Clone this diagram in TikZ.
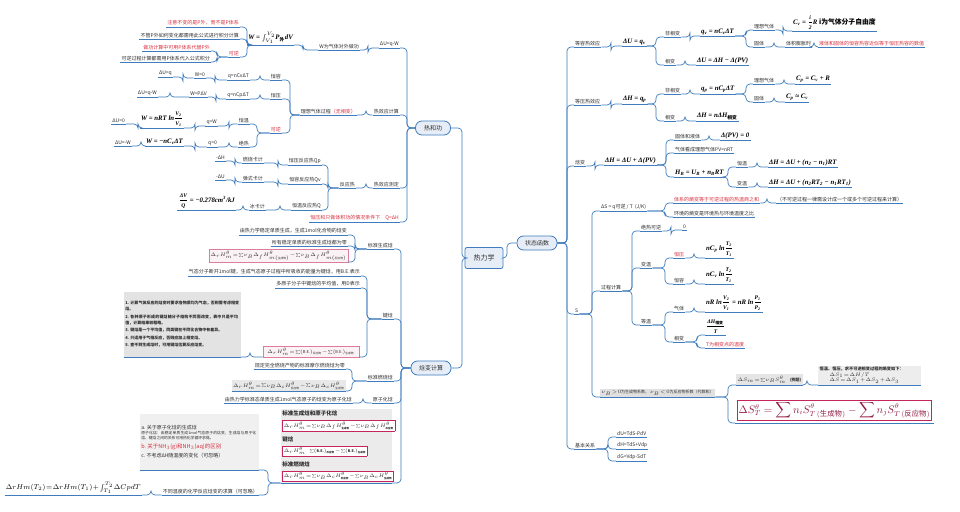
\documentclass[tikz,border=0pt]{standalone}
\usepackage{fontspec}
\usepackage{amsmath}
\setmainfont{Noto Sans CJK SC}
\newfontfamily\tnr{Liberation Serif}
\XeTeXlinebreaklocale "zh"
\XeTeXlinebreakskip=0pt plus 1pt
\definecolor{lc}{RGB}{62,124,189}
\definecolor{rt}{RGB}{215,45,60}
\definecolor{nf}{RGB}{231,237,247}
\definecolor{fr}{RGB}{196,38,92}
\definecolor{tx}{RGB}{45,45,45}
\setlength\fboxsep{1pt}
\setlength\fboxrule{0.5pt}
\newcommand\conL[3]{\draw[link] (#1.south west) -- (#3,0 |- #1.south west) |- (#2.south east);}
\newcommand\conR[3]{\draw[link] (#1.south east) -- (#3,0 |- #1.south east) |- (#2.south west);}
\newcommand\tightmath{\medmuskip=1mu\thickmuskip=1.5mu\thinmuskip=1mu}
\newcommand\fr[2]{$\dfrac{\text{\fontsize{5.6}{6}\selectfont #1}}{\text{\fontsize{5.6}{6}\selectfont #2}}$}
\newcommand\sub[1]{\textsubscript{#1}}
\newcommand\zh[1]{{\normalfont\bfseries #1}}
\begin{document}
\begin{tikzpicture}[x=1pt,y=-1pt,
  link/.style={draw=lc,line width=0.7pt,rounded corners=4pt},
  ul/.style={append after command={\pgfextra{\draw[draw=lc,line width=0.7pt] (\tikzlastnode.south west)--(\tikzlastnode.south east);}}},
  t/.style={ul,inner xsep=1pt,inner ysep=1.3pt,text=tx,font=\fontsize{5}{6}\selectfont\tightmath},
  L/.style={t,anchor=south east},
  R/.style={t,anchor=south west},
  rd/.style={text=rt},
  fm/.style={font=\fontsize{6.8}{8}\selectfont\tnr\bfseries\itshape\tightmath,text=black},
  img/.style={fill=black!9,inner sep=1.5pt},
  topic/.style={draw=lc,fill=nf,line width=0.8pt,rounded corners=6.5pt,minimum height=14pt,inner xsep=4pt,font=\fontsize{6}{7}\selectfont,text=tx},
]
\useasboundingbox (0,0) rectangle (960,511);
\fill[white] (0,0) rectangle (960,511);

% ---------- central ----------
\node[draw=lc,fill=nf,line width=0.8pt,rounded corners=2pt,minimum width=38pt,minimum height=21pt,font=\fontsize{7}{8}\selectfont,text=tx] (main) at (484,258) {热力学};
\node[topic,minimum width=40pt] (zt) at (537,243) {状态函数};
\node[topic,minimum width=35pt] (rg) at (433,128) {热和功};
\node[topic,minimum width=40pt] (hb) at (431,368) {焓变计算};
\draw[link] (main.east) -- (507,0 |- main.east) |- (zt.west);
\draw[link] (main.west) -- (462,0 |- main.west) |- (rg.east);
\draw[link] (main.west) -- (462,0 |- main.west) |- (hb.east);

% ---------- 热和功 ----------
\node[L] (a1) at (400,48) {ΔU=q-W};
\node[L] (a11) at (360,50) {W为气体对外做功};
\node[L,fm] (a111) at (294,45) {W = $\int_{V_1}^{V_2}$P\sub{\zh{外}}dV};
\node[L,rd] (b1) at (240,27) {注意不变的是P外，而不是P体系};
\node[L] (b2) at (240,39) {不管P外如何变化都需用此公式进行积分计算};
\node[L,rd] (b3) at (240,57) {可逆};
\node[L,rd] (b31) at (211,51) {做功计算中可用P体系代替P外};
\node[L] (b32) at (211,62) {可逆过程计算都需用P体系代入公式积分};

\node[L] (a2) at (400,115) {热效应计算};
\node[L] (a21) at (357,115) {理想气体过程\textcolor{rt}{（无相变）}};
\node[L] (p1) at (282,80) {恒容};
\node[L] (p11) at (250,80) {q=nCvΔT};
\node[L] (p111) at (206,78) {W=0};
\node[L] (p1111) at (173,77) {ΔU=q};
\node[L] (p2) at (282,99) {恒压};
\node[L] (p21) at (250,99) {q=nCpΔT};
\node[L] (p211) at (208,97) {W=PΔV};
\node[L] (p2111) at (158,97) {ΔU=q-W};
\node[L,rd] (p3) at (282,133) {可逆};
\node[L] (p31) at (250,124) {恒温};
\node[L] (p311) at (218,126) {q=W};
\node[L,fm] (p3111) at (184,128) {W = nRT ln\fr{V\sub{2}}{V\sub{1}}};
\node[L] (p31111) at (126,124) {ΔU=0};
\node[L] (p32) at (250,147) {绝热};
\node[L] (p321) at (218,147) {q=0};
\node[L,fm] (p3211) at (184,146) {W = −nC\sub{v}ΔT};
\node[L] (p32111) at (132,146) {ΔU=-W};

\node[L] (a3) at (400,188) {热效应测定};
\node[L] (a31) at (356,188) {反应热};
\node[L] (q1) at (322,165) {恒压反应热Qp};
\node[L] (q11) at (264,163) {燃烧卡计};
\node[L] (q111) at (226,161) {-ΔH};
\node[L] (q2) at (322,184) {恒容反应热Qv};
\node[L] (q21) at (264,182) {弹式卡计};
\node[L] (q211) at (226,180) {-ΔU};
\node[L] (q3) at (322,210) {恒温反应热Q};
\node[L] (q31) at (266,210) {冰卡计};
\node[L,fm] (q311) at (236,210) {\fr{ΔV}{Q} = −0.278cm\textsuperscript{3}/kJ};
\node[L,rd] (a4) at (400,222) {恒压和只做体积功的情况条件下\quad Q=ΔH};

\draw[link] (rg.west) -- (407,0 |- rg.west) |- (a1.south east);
\draw[link] (rg.west) -- (407,0 |- rg.west) |- (a2.south east);
\draw[link] (rg.west) -- (407,0 |- rg.west) |- (a3.south east);
\draw[link] (rg.west) -- (407,0 |- rg.west) |- (a4.south east);
\conL{a1}{a11}{368}
\conL{a11}{a111}{303}
\conL{a111}{b1}{247} \conL{a111}{b2}{247} \conL{a111}{b3}{247}
\conL{b3}{b31}{217} \conL{b3}{b32}{217}
\conL{a2}{a21}{366}
\conL{a21}{p1}{290} \conL{a21}{p2}{290} \conL{a21}{p3}{290}
\conL{p1}{p11}{260} \conL{p11}{p111}{215} \conL{p111}{p1111}{183}
\conL{p2}{p21}{260} \conL{p21}{p211}{216} \conL{p211}{p2111}{170}
\conL{p3}{p31}{257} \conL{p3}{p32}{257}
\conL{p31}{p311}{229} \conL{p311}{p3111}{195} \conL{p3111}{p31111}{138}
\conL{p32}{p321}{229} \conL{p321}{p3211}{195} \conL{p3211}{p32111}{141}
\conL{a3}{a31}{366}
\conL{a31}{q1}{328} \conL{a31}{q2}{328} \conL{a31}{q3}{328}
\conL{q1}{q11}{278} \conL{q11}{q111}{235}
\conL{q2}{q21}{278} \conL{q21}{q211}{235}
\conL{q3}{q31}{280} \conL{q31}{q311}{243}

% ---------- 焓变计算 ----------
\node[L] (h1) at (394,249) {标准生成焓};
\node[L] (h11) at (348,235) {由热力学稳定单质生成，生成1mol化合物的焓变};
\node[L] (h12) at (348,246) {所有稳定单质的标准生成焓都为零};
\node[L,img,draw=fr!60,fill=fr!6,font=\fontsize{4}{5}\selectfont\tightmath,minimum width=91pt,minimum height=11pt] (h13) at (348,262) {$\Delta_rH^{\theta}_m=\sum\nu_B\Delta_fH^{\theta}_{m(\text{生成物})}-\sum\nu_B\Delta_fH^{\theta}_{m(\text{反应物})}$};
\node[L] (h2) at (394,319) {键焓};
\node[L] (h21) at (361,276) {气态分子断开1mol键，生成气态原子过程中所吸收的能量为键焓，用B.E.表示};
\node[L] (h22) at (361,288) {多原子分子中键焓的平均值，用D表示};
\node[L,img,draw=fr!60,fill=fr!6,font=\fontsize{4}{5}\selectfont\tightmath,minimum width=96pt,minimum height=10pt] (h23) at (359,357) {$\Delta_rH^{\theta}_m=\sum(\text{B.E.})_{\text{反应物}}-\sum(\text{B.E.})_{\text{生成物}}$};
\node[L,img,fill=black!11,text width=114pt,align=left,font=\fontsize{4}{6}\selectfont\bfseries,minimum height=65pt] (h231) at (241,357) {1.\ 计算气体反应的焓变时要求各物质均为气态，否则需考虑相变焓。\\[1.5pt] 2.\ 各种原子形成的键焓随分子结构不同而改变，表中只是平均值，计算结果较粗略。\\[1.5pt] 3.\ 键焓是一个平均值，同类键在不同化合物中有差异。\\[1.5pt] 4.\ 只适用于气相反应，否则应加上相变焓。\\[1.5pt] 5.\ 查不到生成焓时，可用键焓估算反应焓变。};
\node[L] (h3) at (394,381) {标准燃烧焓};
\node[L] (h31) at (346,369) {规定完全燃烧产物的标准摩尔燃烧焓为零};
\node[L,img,font=\fontsize{4}{5}\selectfont\tightmath,minimum width=96pt,minimum height=10pt] (h32) at (346,391) {$\Delta_rH^{\theta}_m=\sum\nu_B\Delta_cH^{\theta}_{\text{反应物}}-\sum\nu_B\Delta_cH^{\theta}_{\text{生成物}}$};
\node[L] (h4) at (394,403) {原子化焓};
\node[L] (h41) at (353,403) {由热力学标准态单质生成1mol气态原子的焓变为原子化焓};
\node[L,img,fill=black!8,text width=108pt,align=left,font=\fontsize{5.5}{6.5}\selectfont\bfseries\tightmath,minimum height=70pt] (h5) at (392,483) {标准生成焓和原子化焓\\[3pt]
 \fcolorbox{fr}{white}{\fontsize{3.6}{4}\selectfont $\Delta_rH^\theta_m=\sum\nu_B\Delta_fH^\theta_{\text{生成物}}-\sum\nu_B\Delta_fH^\theta_{\text{反应物}}$}\\[4pt]
 键焓\\[3pt]
 \fcolorbox{fr}{white}{\fontsize{3.6}{4}\selectfont $\Delta_rH^\theta_m\quad\sum(\text{B.E.})_{\text{反应物}}-\sum(\text{B.E.})_{\text{生成物}}$}\\[4pt]
 标准燃烧焓\\[3pt]
 \fcolorbox{fr}{white}{\fontsize{3.6}{4}\selectfont $\Delta_rH^\theta_m=\sum\nu_B\Delta_cH^\theta_{\text{反应物}}-\sum\nu_B\Delta_cH^\theta_{\text{生成物}}$}};
\node[L,img,fill=black!6,text width=116pt,align=left,font=\fontsize{3.8}{5.2}\selectfont,minimum height=56pt] (h51) at (259,470) {{\fontsize{5}{6}\selectfont a.\ 关于原子化焓的生成焓}\\ 原子化焓：由稳定单质生成1mol气态原子的焓变，生成焓与原子化焓、键焓之间的关系可用热化学循环求得。\\[3pt] {\color{rt}\fontsize{5.5}{6.5}\selectfont b.\ 关于NH$_3$(g)和NH$_3$(aq)的区别}\\[3pt] {\fontsize{5}{6}\selectfont c.\ 不考虑ΔH随温度的变化（可忽略）}};
\node[L] (h52) at (259,495) {不同温度的化学反应焓变的求算（可忽略）};
\node[L,font=\fontsize{7}{8}\selectfont\tightmath,text=black] (h521) at (142,495) {$\Delta rHm(T_2)=\Delta rHm(T_1)+\int_{T_1}^{T_2}\Delta CpdT$};

\draw[link] (hb.west) -- (401,0 |- hb.west) |- (h1.south east);
\draw[link] (hb.west) -- (401,0 |- hb.west) |- (h2.south east);
\draw[link] (hb.west) -- (401,0 |- hb.west) |- (h3.south east);
\draw[link] (hb.west) -- (401,0 |- hb.west) |- (h4.south east);
\draw[link] (hb.west) -- (401,0 |- hb.west) |- (h5.south east);
\conL{h1}{h11}{355} \conL{h1}{h12}{355} \conL{h1}{h13}{355}
\conL{h2}{h21}{367} \conL{h2}{h22}{367} \conL{h2}{h23}{367}
\conL{h23}{h231}{250}
\conL{h3}{h31}{352} \conL{h3}{h32}{352}
\conL{h4}{h41}{363}
\conL{h5}{h51}{268} \conL{h5}{h52}{268}
\conL{h52}{h521}{151}

% ---------- 状态函数 ----------
\node[R] (r1) at (574,47) {等容热效应};
\node[R,fm] (r11) at (622,46) {ΔU = q\sub{v}};
\node[R] (r111) at (664,37) {非相变};
\node[R,fm] (r1111) at (700,36) {q\sub{v} = nC\sub{v}ΔT};
\node[R] (r11111) at (753,30) {理想气体};
\node[R,fm] (r111111) at (792,31) {C\sub{v} = \fr{i}{2}R \zh{i为气体分子自由度}};
\node[R] (r11112) at (753,47) {固体};
\node[R] (r111121) at (785,47) {体积膨胀时};
\node[R,rd] (r1111211) at (818,47) {液体和固体的恒容热容近似等于恒压热容的数值};
\node[R] (r112) at (664,65) {相变};
\node[R,fm] (r1121) at (696,65) {ΔU = ΔH − Δ(PV)};

\node[R] (r2) at (574,105) {等压热效应};
\node[R,fm] (r21) at (622,104) {ΔH = q\sub{p}};
\node[R] (r211) at (664,94) {非相变};
\node[R,fm] (r2111) at (700,94) {q\sub{p} = nC\sub{p}ΔT};
\node[R] (r21111) at (753,84) {理想气体};
\node[R,fm] (r211111) at (795,84) {C\sub{p} = C\sub{v} + R};
\node[R] (r21112) at (753,102) {固体};
\node[R,fm] (r211121) at (785,102) {C\sub{p} ≈ C\sub{v}};
\node[R] (r212) at (664,121) {相变};
\node[R,fm] (r2121) at (696,121) {ΔH = nΔH\sub{\zh{相变}}};

\node[R] (r3) at (574,166) {焓变};
\node[R,fm] (r31) at (604,165) {ΔH = ΔU + Δ(PV)};
\node[R] (r311) at (674,140) {固体和液体};
\node[R,fm] (r3111) at (720,140) {Δ(PV) = 0};
\node[R] (r312) at (674,153) {气体看成理想气体PV=nRT};
\node[R,fm] (r313) at (674,177) {H\sub{B} = U\sub{B} + n\sub{B}RT};
\node[R] (r3131) at (736,167) {恒温};
\node[R,fm] (r31311) at (768,167) {ΔH = ΔU + (n\sub{2} − n\sub{1})RT};
\node[R] (r3132) at (736,187) {变温};
\node[R,fm] (r31321) at (768,187) {ΔH = ΔU + (n\sub{2}RT\sub{2} − n\sub{1}RT\sub{1})};

\node[R] (r4) at (574,314) {S};
\node[R] (s1) at (600,211) {ΔS = q可逆 / T\ \ (J/K)};
\node[R,rd] (s11) at (673,203) {体系的熵变等于可逆过程的热温商之和};
\node[R] (s111) at (776,203) {（不可逆过程一律需设计成一个或多个可逆过程来计算）};
\node[R] (s12) at (673,217) {环境的熵变是环境热与环境温度之比};
\node[R] (s2) at (600,291) {过程计算};
\node[R] (s21) at (640,231) {绝热可逆};
\node[R] (s211) at (682,230) {0};
\node[R] (s22) at (640,268) {变温};
\node[R,rd] (s221) at (673,258) {恒压};
\node[R,fm] (s2211) at (705,258) {nC\sub{p} ln\fr{T\sub{2}}{T\sub{1}}};
\node[R] (s222) at (673,284) {恒容};
\node[R,fm] (s2221) at (705,284) {nC\sub{v} ln\fr{T\sub{2}}{T\sub{1}}};
\node[R] (s23) at (640,325) {等温};
\node[R] (s231) at (673,312) {气体};
\node[R,fm] (s2311) at (705,312) {nR ln\fr{V\sub{2}}{V\sub{1}} = nR ln\fr{P\sub{1}}{P\sub{2}}};
\node[R] (s232) at (673,342) {相变};
\node[R,fm] (s2321) at (705,335) {\fr{ΔH\sub{\zh{相变}}}{T}};
\node[R,rd] (s2322) at (705,348) {T为相变点的温度};
\node[R,img,fill=black!12,font=\fontsize{4}{5}\selectfont\tightmath] (s3) at (600,397) {$\nu_B>0$为生成物系数，\ $\nu_B<0$为反应物系数（代数和）};
\node[R,img,fill=black!10,font=\fontsize{4}{5}\selectfont\tightmath] (s31) at (736,385) {$\Delta S_m=\sum\nu_BS^\theta_m$\quad\textbf{(例题)}};
\node[R,img,fill=black!7,align=left,font=\fontsize{4.2}{5.5}\selectfont\tightmath,text width=100pt] (s311) at (818,385) {\textbf{恒温、恒压，求不可逆相变过程的熵变如下：}\\ \hspace*{10pt}$\Delta S_1=\Delta H/T$\\ \hspace*{10pt}$\Delta S=\Delta S_1+\Delta S_2+\Delta S_3$};
\node[R,inner xsep=2pt,inner ysep=2pt,font=\fontsize{10.5}{12}\selectfont] (s32) at (735,423) {\fcolorbox{fr}{white}{\color{fr!75!black}$\Delta S^{\theta}_{T}=\displaystyle\sum n_iS^{\theta}_{T\,(\text{生成物})}-\sum n_jS^{\theta}_{T\,(\text{反应物})}$}};

\node[R] (r5) at (574,449) {基本关系};
\node[R] (t1) at (616,437) {dU=TdS-PdV};
\node[R] (t2) at (616,449) {dH=TdS+Vdp};
\node[R] (t3) at (616,461) {dG=Vdp-SdT};

\draw[link] (zt.east) -- (567,0 |- zt.east) |- (r1.south west);
\draw[link] (zt.east) -- (567,0 |- zt.east) |- (r2.south west);
\draw[link] (zt.east) -- (567,0 |- zt.east) |- (r3.south west);
\draw[link] (zt.east) -- (567,0 |- zt.east) |- (r4.south west);
\draw[link] (zt.east) -- (567,0 |- zt.east) |- (r5.south west);
\conR{r1}{r11}{611} \conR{r11}{r111}{656} \conR{r11}{r112}{656}
\conR{r111}{r1111}{690} \conR{r1111}{r11111}{746} \conR{r1111}{r11112}{746}
\conR{r11111}{r111111}{783} \conR{r11112}{r111121}{774} \conR{r111121}{r1111211}{814}
\conR{r112}{r1121}{685}
\conR{r2}{r21}{611} \conR{r21}{r211}{656} \conR{r21}{r212}{656}
\conR{r211}{r2111}{690} \conR{r2111}{r21111}{746} \conR{r2111}{r21112}{746}
\conR{r21111}{r211111}{784} \conR{r21112}{r211121}{774}
\conR{r212}{r2121}{685}
\conR{r3}{r31}{595} \conR{r31}{r311}{666} \conR{r31}{r312}{666} \conR{r31}{r313}{666}
\conR{r311}{r3111}{709}
\conR{r313}{r3131}{728} \conR{r313}{r3132}{728}
\conR{r3131}{r31311}{757} \conR{r3132}{r31321}{757}
\conR{r4}{s1}{592} \conR{r4}{s2}{592} \conR{r4}{s3}{592}
\conR{s1}{s11}{665} \conR{s1}{s12}{665}
\conR{s11}{s111}{767}
\conR{s2}{s21}{632} \conR{s2}{s22}{632} \conR{s2}{s23}{632}
\conR{s21}{s211}{671}
\conR{s22}{s221}{665} \conR{s22}{s222}{665}
\conR{s221}{s2211}{694} \conR{s222}{s2221}{694}
\conR{s23}{s231}{665} \conR{s23}{s232}{665}
\conR{s231}{s2311}{694}
\conR{s232}{s2321}{697} \conR{s232}{s2322}{697}
\conR{s3}{s31}{728} \conR{s3}{s32}{728}
\conR{s31}{s311}{807}
\conR{r5}{t1}{608} \conR{r5}{t2}{608} \conR{r5}{t3}{608}
\end{tikzpicture}
\end{document}
